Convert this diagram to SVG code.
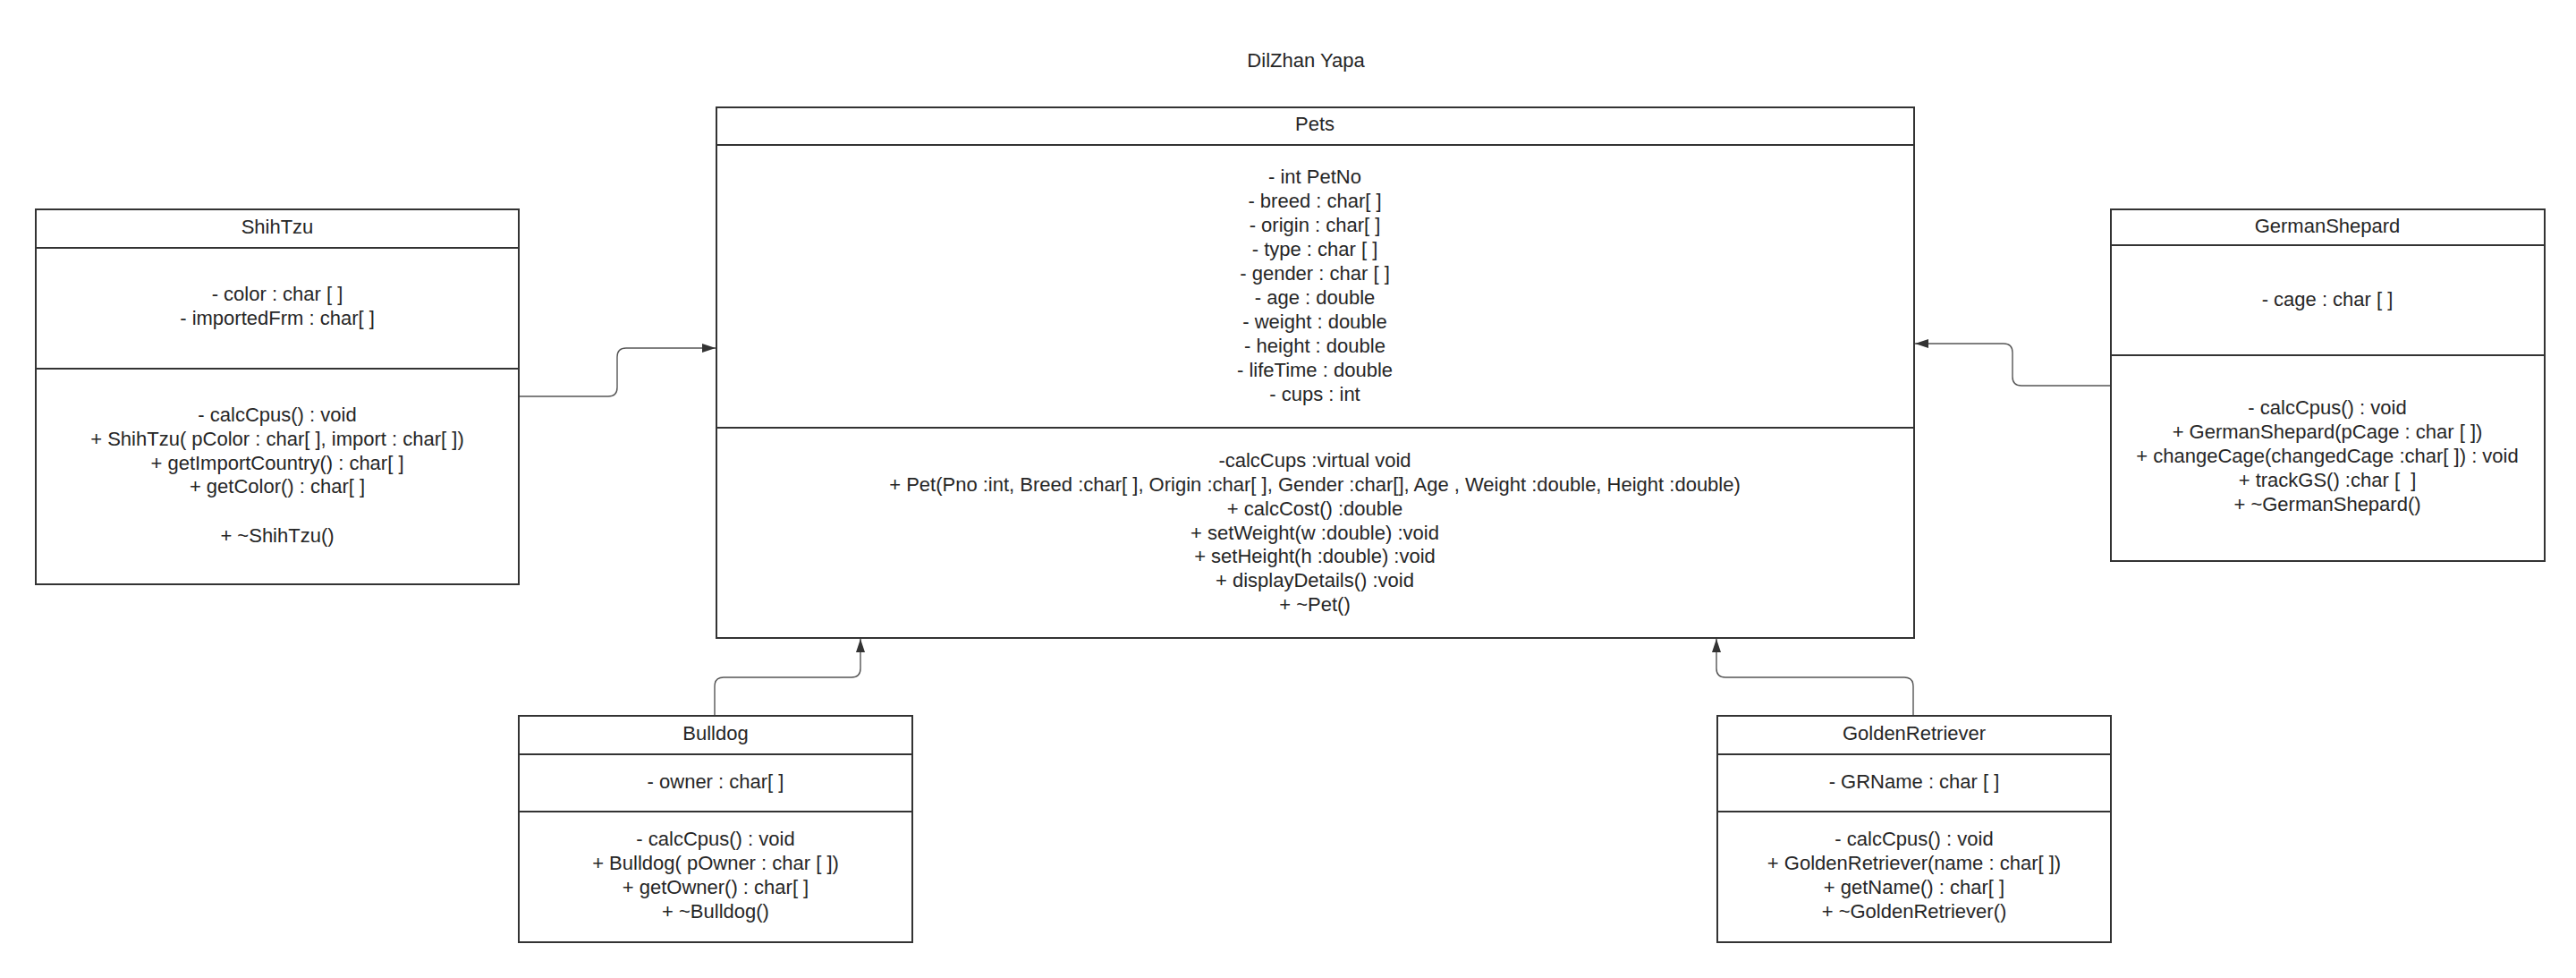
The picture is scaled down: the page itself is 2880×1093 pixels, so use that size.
<svg xmlns="http://www.w3.org/2000/svg" width="2880" height="1093" viewBox="0 0 2880 1093">
  <style>
    text { font-family: "Liberation Sans", Arial, sans-serif; font-size: 22px; fill: #262626; text-anchor: middle; }
    .box { fill: #ffffff; stroke: #333333; stroke-width: 2; }
    .sep { stroke: #333333; stroke-width: 2; }
    .link { fill: none; stroke: #555555; stroke-width: 1.4; marker-end: url(#arrow); }
  </style>
  <defs>
    <marker id="arrow" markerUnits="userSpaceOnUse" markerWidth="16" markerHeight="12" refX="15" refY="5" orient="auto">
      <path d="M0,0 L15,5 L0,10 Z" fill="#333333"/>
    </marker>
  </defs>
  <rect width="2880" height="1093" fill="#ffffff"/>

  <text x="1460" y="75">DilZhan Yapa</text>

  <!-- connectors: generalisations pointing at the Pets base class -->
  <g id="connectors">
    <path class="link" d="M580,443 H680 Q690,443 690,433 V399 Q690,389 700,389 H800"/>
    <path class="link" d="M2360,431 H2260 Q2250,431 2250,421 V394 Q2250,384 2240,384 H2141"/>
    <path class="link" d="M799,800 V767 Q799,757 809,757 H952 Q962,757 962,747 V714"/>
    <path class="link" d="M2139,800 V767 Q2139,757 2129,757 H1929 Q1919,757 1919,747 V714"/>
  </g>

  <g id="pets">
    <rect class="box" x="801" y="120" width="1339" height="593"/>
    <line class="sep" x1="801" y1="162" x2="2140" y2="162"/>
    <line class="sep" x1="801" y1="478" x2="2140" y2="478"/>
    <text x="1470" y="146">Pets</text>
    <text x="1470" y="205">- int PetNo</text>
    <text x="1470" y="232">- breed : char[ ]</text>
    <text x="1470" y="259">- origin : char[ ]</text>
    <text x="1470" y="286">- type : char [ ]</text>
    <text x="1470" y="313">- gender : char [ ]</text>
    <text x="1470" y="340">- age : double</text>
    <text x="1470" y="367">- weight : double</text>
    <text x="1470" y="394">- height : double</text>
    <text x="1470" y="421">- lifeTime : double</text>
    <text x="1470" y="448">- cups : int</text>
    <text x="1470" y="522">-calcCups :virtual void</text>
    <text x="1470" y="549">+ Pet(Pno :int, Breed :char[ ], Origin :char[ ], Gender :char[], Age , Weight :double, Height :double)</text>
    <text x="1470" y="576">+ calcCost() :double</text>
    <text x="1470" y="603">+ setWeight(w :double) :void</text>
    <text x="1470" y="629">+ setHeight(h :double) :void</text>
    <text x="1470" y="656">+ displayDetails() :void</text>
    <text x="1470" y="683">+ ~Pet()</text>
  </g>

  <g id="shihtzu">
    <rect class="box" x="40" y="234" width="540" height="419"/>
    <line class="sep" x1="40" y1="277" x2="580" y2="277"/>
    <line class="sep" x1="40" y1="412" x2="580" y2="412"/>
    <text x="310" y="261">ShihTzu</text>
    <text x="310" y="336">- color : char [ ]</text>
    <text x="310" y="363">- importedFrm : char[ ]</text>
    <text x="310" y="471">- calcCpus() : void</text>
    <text x="310" y="498">+ ShihTzu( pColor : char[ ], import : char[ ])</text>
    <text x="310" y="525">+ getImportCountry() : char[ ]</text>
    <text x="310" y="551">+ getColor() : char[ ]</text>
    <text x="310" y="606">+ ~ShihTzu()</text>
  </g>

  <g id="germanshepard">
    <rect class="box" x="2360" y="234" width="485" height="393"/>
    <line class="sep" x1="2360" y1="274" x2="2845" y2="274"/>
    <line class="sep" x1="2360" y1="397" x2="2845" y2="397"/>
    <text x="2602" y="260">GermanShepard</text>
    <text x="2602" y="342">- cage : char [ ]</text>
    <text x="2602" y="463">- calcCpus() : void</text>
    <text x="2602" y="490">+ GermanShepard(pCage : char [ ])</text>
    <text x="2602" y="517">+ changeCage(changedCage :char[ ]) : void</text>
    <text x="2602" y="544">+ trackGS() :char [&#160;&#160;]</text>
    <text x="2602" y="571">+ ~GermanShepard()</text>
  </g>

  <g id="bulldog">
    <rect class="box" x="580" y="800" width="440" height="253"/>
    <line class="sep" x1="580" y1="843" x2="1020" y2="843"/>
    <line class="sep" x1="580" y1="907" x2="1020" y2="907"/>
    <text x="800" y="827">Bulldog</text>
    <text x="800" y="881">- owner : char[ ]</text>
    <text x="800" y="945">- calcCpus() : void</text>
    <text x="800" y="972">+ Bulldog( pOwner : char [ ])</text>
    <text x="800" y="999">+ getOwner() : char[ ]</text>
    <text x="800" y="1026">+ ~Bulldog()</text>
  </g>

  <g id="goldenretriever">
    <rect class="box" x="1920" y="800" width="440" height="253"/>
    <line class="sep" x1="1920" y1="843" x2="2360" y2="843"/>
    <line class="sep" x1="1920" y1="907" x2="2360" y2="907"/>
    <text x="2140" y="827">GoldenRetriever</text>
    <text x="2140" y="881">- GRName : char [ ]</text>
    <text x="2140" y="945">- calcCpus() : void</text>
    <text x="2140" y="972">+ GoldenRetriever(name : char[ ])</text>
    <text x="2140" y="999">+ getName() : char[ ]</text>
    <text x="2140" y="1026">+ ~GoldenRetriever()</text>
  </g>
</svg>
